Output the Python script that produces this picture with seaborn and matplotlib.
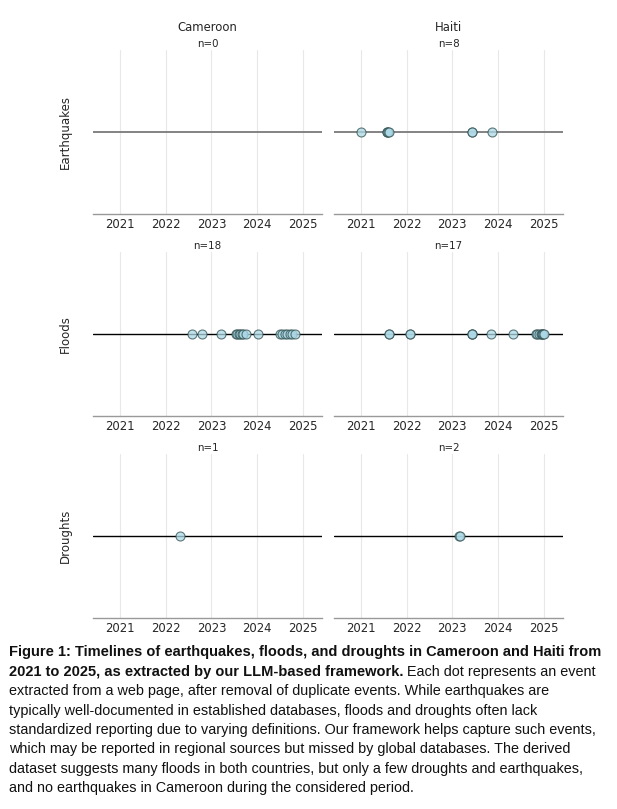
import numpy as np
import pandas as pd
import seaborn as sns
import matplotlib.pyplot as plt

countries = ["Cameroon", "Haiti"]
hazards = ["Earthquakes", "Floods", "Droughts"]
years = [2021, 2022, 2023, 2024, 2025]

# event dates as decimal years
cameroon_earthquakes = []
cameroon_floods = [2022.57, 2022.79, 2023.22, 2023.54, 2023.57, 2023.60, 2023.63,
                   2023.66, 2023.70, 2023.76, 2024.02, 2024.49, 2024.55, 2024.61,
                   2024.66, 2024.71, 2024.76, 2024.82]
cameroon_droughts = [2022.32]
haiti_earthquakes = [2021.00, 2021.56, 2021.58, 2021.60, 2021.61, 2023.42, 2023.43, 2023.86]
haiti_floods = [2021.62, 2021.62, 2022.08, 2022.08, 2023.42, 2023.42, 2023.43, 2023.85,
                2024.32, 2024.82, 2024.86, 2024.90, 2024.93, 2024.95, 2024.97, 2024.98,
                2025.00]
haiti_droughts = [2023.14, 2023.17]

events = {
    ("Cameroon", "Earthquakes"): cameroon_earthquakes,
    ("Cameroon", "Floods"): cameroon_floods,
    ("Cameroon", "Droughts"): cameroon_droughts,
    ("Haiti", "Earthquakes"): haiti_earthquakes,
    ("Haiti", "Floods"): haiti_floods,
    ("Haiti", "Droughts"): haiti_droughts,
}

rows = []
for (c, h), dates in events.items():
    for d in dates:
        rows.append({"country": c, "hazard": h, "date": d, "y": 0})
df = pd.DataFrame(rows, columns=["country", "hazard", "date", "y"])

sns.set_theme(style="whitegrid")
plt.rcParams["font.family"] = ["DejaVu Sans"]

fig, axes = plt.subplots(3, 2, figsize=(6.17, 8.09), dpi=100)
fig.subplots_adjust(left=0.1507, right=0.9125, top=0.9382, bottom=0.2361,
                    wspace=0.052, hspace=0.232)

for i, h in enumerate(hazards):
    for j, c in enumerate(countries):
        ax = axes[i, j]
        sub = df[(df["country"] == c) & (df["hazard"] == h)]
        # the top row's baseline renders lighter in the reference
        if i == 0:
            ax.axhline(0, color="#7a7a7a", lw=1.3, zorder=1)
        else:
            ax.axhline(0, color="black", lw=1, zorder=1)
        if len(sub):
            sns.scatterplot(data=sub, x="date", y="y", ax=ax, s=42,
                            color="lightblue", edgecolor="#2f4f4f",
                            linewidth=0.8, alpha=0.75, zorder=3)
        ax.set_xlim(2020.41, 2025.42)
        ax.set_ylim(-1, 1)
        ax.set_xticks(years)
        ax.set_xticklabels([str(y) for y in years], fontsize=8.4, color="#262626")
        ax.set_yticks([])
        ax.set_xlabel("")
        ax.set_ylabel("")
        ax.grid(axis="x", color="#e8e8e8", lw=0.8)
        ax.grid(axis="y", visible=False)
        ax.tick_params(axis="x", length=0, pad=3)
        for side in ["left", "top", "right"]:
            ax.spines[side].set_visible(False)
        ax.spines["bottom"].set_color("#999999")
        ax.spines["bottom"].set_linewidth(1)
        ax.set_title(f"n={len(sub)}", fontsize=7.4, pad=2, color="#262626")
        if i == 0:
            ax.annotate(c, xy=(0.5, 1), xycoords="axes fraction", xytext=(0, 16),
                        textcoords="offset points", ha="center", va="center",
                        fontsize=8.4, color="#262626")
        if j == 0:
            ax.set_ylabel(h, fontsize=8.5, labelpad=15.5, color="#262626")

# caption
cap_font = "Liberation Sans"
bold_size = 10.52
norm_size = 10.4
line_h = 19.4 / 809
y0 = 1 - 652.3 / 809
x0 = 9 / 617
bold_lines = ["Figure 1: Timelines of earthquakes, floods, and droughts in Cameroon and Haiti from",
              "2021 to 2025, as extracted by our LLM-based framework."]
normal_lines = ["Each dot represents an event",
                "extracted from a web page, after removal of duplicate events. While earthquakes are",
                "typically well-documented in established databases, floods and droughts often lack",
                "standardized reporting due to varying definitions. Our framework helps capture such events,",
                "which may be reported in regional sources but missed by global databases. The derived",
                "dataset suggests many floods in both countries, but only a few droughts and earthquakes,",
                "and no earthquakes in Cameroon during the considered period."]

fig.text(x0, y0, bold_lines[0], fontsize=bold_size, fontweight="bold",
         family=cap_font, va="center", ha="left", color="#111111")
t2 = fig.text(x0, y0 - line_h, bold_lines[1], fontsize=bold_size, fontweight="bold",
              family=cap_font, va="center", ha="left", color="#111111")
fig.canvas.draw()
bb = t2.get_window_extent(fig.canvas.get_renderer())
x_after = bb.x1 / fig.bbox.width + 4 / 617
fig.text(x_after, y0 - line_h, normal_lines[0], fontsize=norm_size,
         family=cap_font, va="center", ha="left", color="#111111")
for k, txt in enumerate(normal_lines[1:]):
    fig.text(x0, y0 - (k + 2) * line_h, txt, fontsize=norm_size,
             family=cap_font, va="center", ha="left", color="#111111")

fig.savefig("out.png", dpi=100)
